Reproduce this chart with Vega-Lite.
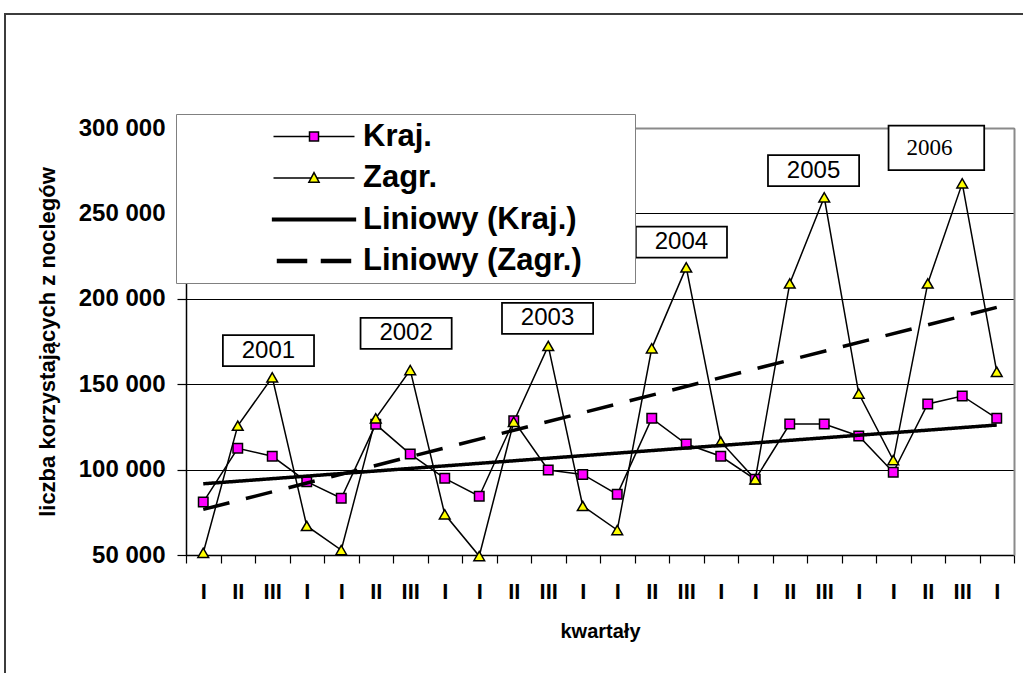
{
  "$schema": "https://vega.github.io/schema/vega-lite/v6.json",
  "autosize": "none",
  "width": 1021,
  "height": 662,
  "padding": {"left": 5, "top": 14, "right": -3, "bottom": -3},
  "background": "white",
  "config": {
    "view": {"stroke": "#3c3c3c", "strokeWidth": 2, "fill": "white"},
    "font": "Liberation Sans"
  },
  "datasets": {
    "dane": [
      {"k": 0, "seria": "Kraj.", "wart": 81000},
      {"k": 1, "seria": "Kraj.", "wart": 112500},
      {"k": 2, "seria": "Kraj.", "wart": 107800},
      {"k": 3, "seria": "Kraj.", "wart": 92900},
      {"k": 4, "seria": "Kraj.", "wart": 83200},
      {"k": 5, "seria": "Kraj.", "wart": 126500},
      {"k": 6, "seria": "Kraj.", "wart": 109100},
      {"k": 7, "seria": "Kraj.", "wart": 94900},
      {"k": 8, "seria": "Kraj.", "wart": 84400},
      {"k": 9, "seria": "Kraj.", "wart": 128600},
      {"k": 10, "seria": "Kraj.", "wart": 99800},
      {"k": 11, "seria": "Kraj.", "wart": 97200},
      {"k": 12, "seria": "Kraj.", "wart": 85500},
      {"k": 13, "seria": "Kraj.", "wart": 130000},
      {"k": 14, "seria": "Kraj.", "wart": 115000},
      {"k": 15, "seria": "Kraj.", "wart": 107800},
      {"k": 16, "seria": "Kraj.", "wart": 94300},
      {"k": 17, "seria": "Kraj.", "wart": 126700},
      {"k": 18, "seria": "Kraj.", "wart": 126700},
      {"k": 19, "seria": "Kraj.", "wart": 119700},
      {"k": 20, "seria": "Kraj.", "wart": 98400},
      {"k": 21, "seria": "Kraj.", "wart": 138400},
      {"k": 22, "seria": "Kraj.", "wart": 143100},
      {"k": 23, "seria": "Kraj.", "wart": 130000},
      {"k": 0, "seria": "Zagr.", "wart": 51300},
      {"k": 1, "seria": "Zagr.", "wart": 125700},
      {"k": 2, "seria": "Zagr.", "wart": 154000},
      {"k": 3, "seria": "Zagr.", "wart": 67000},
      {"k": 4, "seria": "Zagr.", "wart": 52900},
      {"k": 5, "seria": "Zagr.", "wart": 130000},
      {"k": 6, "seria": "Zagr.", "wart": 158300},
      {"k": 7, "seria": "Zagr.", "wart": 73800},
      {"k": 8, "seria": "Zagr.", "wart": 49400},
      {"k": 9, "seria": "Zagr.", "wart": 128000},
      {"k": 10, "seria": "Zagr.", "wart": 172400},
      {"k": 11, "seria": "Zagr.", "wart": 78700},
      {"k": 12, "seria": "Zagr.", "wart": 64600},
      {"k": 13, "seria": "Zagr.", "wart": 171000},
      {"k": 14, "seria": "Zagr.", "wart": 218400},
      {"k": 15, "seria": "Zagr.", "wart": 116300},
      {"k": 16, "seria": "Zagr.", "wart": 94300},
      {"k": 17, "seria": "Zagr.", "wart": 209000},
      {"k": 18, "seria": "Zagr.", "wart": 259400},
      {"k": 19, "seria": "Zagr.", "wart": 144500},
      {"k": 20, "seria": "Zagr.", "wart": 105600},
      {"k": 21, "seria": "Zagr.", "wart": 209000},
      {"k": 22, "seria": "Zagr.", "wart": 267600},
      {"k": 23, "seria": "Zagr.", "wart": 157300}
    ],
    "trend": [
      {"k": 0, "seria": "Liniowy (Kraj.)", "wart": 91700},
      {"k": 23, "seria": "Liniowy (Kraj.)", "wart": 126100},
      {"k": 0, "seria": "Liniowy (Zagr.)", "wart": 76700},
      {"k": 23, "seria": "Liniowy (Zagr.)", "wart": 195000}
    ],
    "lata": [
      {"rok": "2001", "k": 1.89, "wart": 169700},
      {"rok": "2002", "k": 5.88, "wart": 179800},
      {"rok": "2003", "k": 9.98, "wart": 188600},
      {"rok": "2004", "k": 13.86, "wart": 233250},
      {"rok": "2005", "k": 17.69, "wart": 275100},
      {"rok": "2006", "k": 21.25, "wart": 288300}
    ]
  },
  "resolve": {"axis": {"x": "independent", "y": "independent"}},
  "layer": [
    {
      "data": {"name": "dane"},
      "mark": {"type": "line", "color": "black", "strokeWidth": 1.5},
      "encoding": {
        "x": {
          "field": "k", "type": "quantitative",
          "scale": {"domain": [-0.5, 23.5], "range": [181, 1009], "nice": false, "zero": false},
          "axis": {
            "orient": "bottom", "offset": -121,
            "values": [-0.5, 0, 0.5, 1, 1.5, 2, 2.5, 3, 3.5, 4, 4.5, 5, 5.5, 6, 6.5, 7, 7.5, 8, 8.5, 9, 9.5, 10, 10.5, 11, 11.5, 12, 12.5, 13, 13.5, 14, 14.5, 15, 15.5, 16, 16.5, 17, 17.5, 18, 18.5, 19, 19.5, 20, 20.5, 21, 21.5, 22, 22.5, 23, 23.5],
            "labelExpr": "datum.value % 1 === 0 ? ['I','II','III','I'][datum.value % 4] : ''",
            "tickColor": {"condition": {"test": "datum.value % 1 === 0", "value": "transparent"}, "value": "black"},
            "tickSize": 8, "tickWidth": 1.2,
            "domainColor": "black", "domainWidth": 1.5,
            "grid": false,
            "labelFont": "Liberation Sans", "labelFontWeight": "bold", "labelFontSize": 22, "labelColor": "black",
            "labelPadding": 18, "labelOverlap": false, "labelFlush": false, "labelBound": false,
            "title": "kwartały", "titleFont": "Liberation Sans", "titleFontWeight": "bold", "titleFontSize": 20, "titleColor": "black", "titlePadding": 19
          }
        },
        "y": {
          "field": "wart", "type": "quantitative",
          "scale": {"domain": [50000, 300000], "range": [541, 114], "nice": false, "zero": false},
          "axis": {
            "orient": "left", "offset": -181,
            "values": [50000, 100000, 150000, 200000, 250000, 300000],
            "labelExpr": "format(datum.value / 1000, 'd') + ' 000'",
            "tickSize": 9, "tickColor": "black", "tickWidth": 1.2,
            "domainColor": "black", "domainWidth": 1.5,
            "grid": true, "gridColor": "black", "gridWidth": 1, "gridOpacity": 1,
            "labelFont": "Liberation Sans", "labelFontWeight": "bold", "labelFontSize": 24, "labelColor": "black",
            "labelPadding": 12, "labelOverlap": false, "labelFlush": false, "labelBound": false,
            "title": "liczba korzystających z noclegów", "titleFont": "Liberation Sans", "titleFontWeight": "bold", "titleFontSize": 22, "titleColor": "black", "titlePadding": 19
          }
        },
        "detail": {"field": "seria"}
      }
    },
    {
      "data": {"name": "dane"},
      "mark": {"type": "point", "filled": true, "opacity": 1, "stroke": "black", "strokeWidth": 1.5},
      "encoding": {
        "x": {"field": "k", "type": "quantitative", "axis": null},
        "y": {"field": "wart", "type": "quantitative", "axis": null},
        "fill": {
          "field": "seria", "type": "nominal",
          "scale": {"domain": ["Kraj.", "Zagr.", "Liniowy (Kraj.)", "Liniowy (Zagr.)"], "range": ["#FF00FF", "#FFFF00", "#000000", "#000000"]},
          "legend": {
            "orient": "none", "legendX": 171, "legendY": 100,
            "title": "\u00a0", "titleOrient": "right", "titleFontSize": 1, "titlePadding": 46,
            "fillColor": "white", "strokeColor": "#808080",
            "padding": 7, "rowPadding": 9.5,
            "symbolSize": 144, "symbolOffset": 115.5, "labelOffset": 33.5,
            "symbolStrokeColor": "black", "symbolStrokeWidth": 1.5, "symbolOpacity": 1,
            "labelFont": "Liberation Sans", "labelFontWeight": "bold", "labelFontSize": 31, "labelColor": "black", "labelLimit": 600,
            "encode": {
              "symbols": {
                "update": {
                  "shape": {"signal": "datum.value === 'Kraj.' ? 'M-6.75,0H-0.75M0.75,0H6.75M-0.75,-0.75H0.75V0.75H-0.75Z' : datum.value === 'Zagr.' ? 'M-6.75,0H-0.45M0.45,0H6.75M0,-0.9L0.85,0.7H-0.85Z' : datum.value === 'Liniowy (Kraj.)' ? 'M-6.9,-0.2H6.9V0.2H-6.9Z' : 'M-6.08,-0.25H-1.25V0.25H-6.08ZM1.25,-0.25H6.08V0.25H1.25Z'"}
                }
              }
            }
          }
        },
        "shape": {
          "field": "seria", "type": "nominal",
          "scale": {"domain": ["Kraj.", "Zagr."], "range": ["square", "triangle-up"]},
          "legend": null
        },
        "size": {
          "field": "seria", "type": "nominal",
          "scale": {"domain": ["Kraj.", "Zagr."], "range": [90, 115]},
          "legend": null
        }
      }
    },
    {
      "data": {"name": "trend"},
      "mark": {"type": "line", "color": "black", "strokeWidth": 3.5, "strokeCap": "butt"},
      "encoding": {
        "x": {
          "field": "k", "type": "quantitative",
          "axis": {"orient": "top", "offset": -114, "ticks": false, "labels": false, "grid": false, "title": null, "domainColor": "#8a8a8a", "domainWidth": 2}
        },
        "y": {
          "field": "wart", "type": "quantitative",
          "axis": {"orient": "right", "offset": -12, "ticks": false, "labels": false, "grid": false, "title": null, "domainColor": "#8a8a8a", "domainWidth": 2}
        },
        "detail": {"field": "seria"},
        "strokeDash": {
          "field": "seria", "type": "nominal",
          "scale": {"domain": ["Liniowy (Kraj.)", "Liniowy (Zagr.)"], "range": [[1, 0], [27, 17]]},
          "legend": null
        }
      }
    },
    {
      "data": {"name": "lata"},
      "transform": [{"filter": "datum.rok !== '2006'"}],
      "mark": {"type": "point", "filled": true, "fill": "white", "opacity": 1, "stroke": "black", "strokeWidth": 1.75, "shape": "M-2.94,-1H2.94V1H-2.94Z", "size": 961},
      "encoding": {
        "x": {"field": "k", "type": "quantitative", "axis": null},
        "y": {"field": "wart", "type": "quantitative", "axis": null}
      }
    },
    {
      "data": {"name": "lata"},
      "transform": [{"filter": "datum.rok !== '2006'"}],
      "mark": {"type": "text", "font": "Liberation Sans", "fontSize": 24, "color": "black", "align": "center", "baseline": "middle"},
      "encoding": {
        "x": {"field": "k", "type": "quantitative", "axis": null},
        "y": {"field": "wart", "type": "quantitative", "axis": null},
        "text": {"field": "rok"}
      }
    },
    {
      "data": {"name": "lata"},
      "transform": [{"filter": "datum.rok === '2006'"}],
      "mark": {"type": "point", "filled": true, "fill": "white", "opacity": 1, "stroke": "black", "strokeWidth": 1.75, "shape": "M-2.15,-1H2.15V1H-2.15Z", "size": 1980},
      "encoding": {
        "x": {"field": "k", "type": "quantitative", "axis": null},
        "y": {"field": "wart", "type": "quantitative", "axis": null}
      }
    },
    {
      "data": {"name": "lata"},
      "transform": [{"filter": "datum.rok === '2006'"}],
      "mark": {"type": "text", "font": "Liberation Serif", "fontSize": 23, "color": "black", "align": "center", "baseline": "middle", "dx": -7},
      "encoding": {
        "x": {"field": "k", "type": "quantitative", "axis": null},
        "y": {"field": "wart", "type": "quantitative", "axis": null},
        "text": {"field": "rok"}
      }
    }
  ]
}
